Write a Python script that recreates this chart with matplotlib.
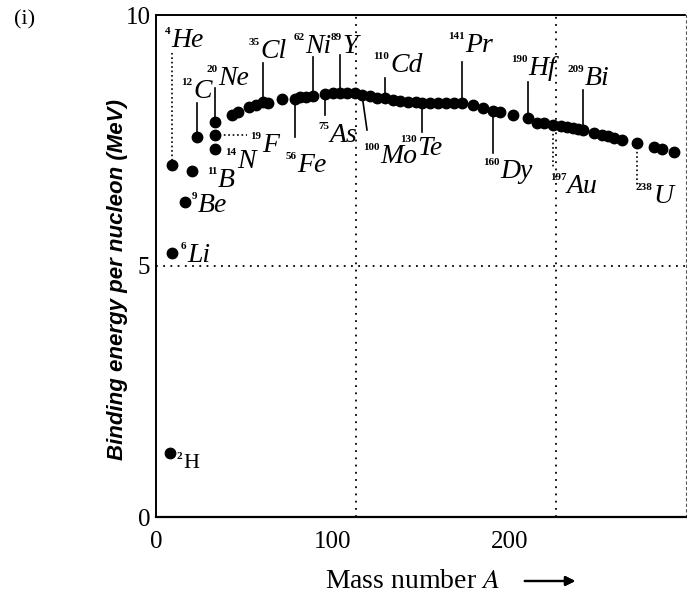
import matplotlib.pyplot as plt

plt.rcParams['mathtext.fontset'] = 'stix'

# labelled nuclides (positions as drawn in the figure)
lab_mass = ['2', '6', '4', '9', '11', '12', '14', '19', '20', '35', '56', '62',
            '75', '89', '100', '110', '130', '141', '160', '190', '197', '209', '238']
lab_sym = ['H', 'Li', 'He', 'Be', 'B', 'C', 'N', 'F', 'Ne', 'Cl', 'Fe', 'Ni',
           'As', 'Y', 'Mo', 'Cd', 'Te', 'Pr', 'Dy', 'Hf', 'Au', 'Bi', 'U']
lab_A = [7, 8, 8, 14.5, 18, 20.5, 29.5, 29.5, 29.5, 53.5, 69.5, 78.5,
         84.5, 92, 103, 114.5, 133, 153, 168.5, 186, 198.5, 213.5, 240.5]
lab_BE = [1.27, 5.26, 7.01, 6.27, 6.89, 7.57, 7.33, 7.61, 7.87, 8.27, 8.33, 8.39,
          8.43, 8.45, 8.41, 8.35, 8.25, 8.25, 8.09, 7.95, 7.81, 7.71, 7.45]

# unlabelled nuclides along the curve
oth_A = [38, 41, 46.5, 50, 56, 63, 72, 75, 88.5, 95.5, 99.5, 107, 110.5,
         118.5, 122, 126, 130, 137, 141, 145, 149, 158.5, 163.5, 172, 178.5,
         190.5, 194, 202.5, 205.5, 208.5, 211, 219, 223, 226, 229, 233,
         249, 253, 259]
oth_BE = [8.01, 8.07, 8.17, 8.21, 8.25, 8.33, 8.37, 8.37, 8.45, 8.45, 8.45, 8.39, 8.35,
          8.31, 8.29, 8.27, 8.26, 8.25, 8.25, 8.25, 8.25, 8.21, 8.15, 8.07, 8.01,
          7.85, 7.85, 7.79, 7.77, 7.75, 7.73, 7.65, 7.61, 7.59, 7.55, 7.51,
          7.37, 7.33, 7.27]

x_ticks = [0, 100, 200]
y_ticks = [0, 5, 10]

# label layout: symbol left/baseline and leader-line end
lab_text = {
    'H': (13.5, 0.98), 'Li': (15.5, 5.08), 'He': (7.5, 9.36), 'Be': (21, 6.08),
    'B': (31, 6.57), 'C': (18.5, 8.35), 'N': (40.5, 6.95), 'F': (53, 7.27),
    'Ne': (31, 8.61), 'Cl': (52, 9.14), 'Fe': (70.5, 6.87), 'Ni': (74.5, 9.24),
    'As': (87, 7.47), 'Y': (93, 9.24), 'Mo': (112, 7.05), 'Cd': (117, 8.86),
    'Te': (130.5, 7.21), 'Pr': (154.5, 9.26), 'Dy': (172, 6.75), 'Hf': (186, 8.80),
    'Au': (205.5, 6.45), 'Bi': (214.5, 8.61), 'U': (248.5, 6.25),
}
lab_line = {
    'He': (8, 9.26), 'C': (20.5, 8.25), 'Ne': (29.5, 8.55), 'Cl': (53.5, 9.04),
    'Ni': (78.5, 9.16), 'Y': (92, 9.20), 'Cd': (114.5, 8.75), 'Pr': (153, 9.06),
    'Hf': (186, 8.67), 'Bi': (213.5, 8.51), 'Fe': (69.5, 7.57), 'As': (84.5, 8.01),
    'Mo': (105.5, 7.71), 'Te': (133, 7.67), 'Dy': (168.5, 7.25), 'Au': (198.5, 6.97),
    'U': (240.5, 6.57), 'F': (45.5, 7.61),
}
dotted_leaders = ['He', 'U', 'Au', 'F']

fig = plt.figure(figsize=(6.87, 6.01), dpi=100)
ax = fig.add_axes([156 / 687, 1 - 517 / 601, 530 / 687, 502 / 601])

# dotted grid lines at 100, 200 and 5
for xv in x_ticks[1:]:
    ax.axvline(xv, color='black', lw=1.3, ls=(0, (1, 3)), zorder=1)
ax.axhline(y_ticks[1], color='black', lw=1.3, ls=(0, (1, 3)), zorder=1)

# leader lines
for sym, (x1, y1) in lab_line.items():
    i = lab_sym.index(sym)
    ls = ':' if sym in dotted_leaders else '-'
    ax.plot([lab_A[i], x1], [lab_BE[i], y1], color='black', lw=1.2, ls=ls, zorder=2)

ax.plot(oth_A, oth_BE, 'o', color='black', ms=7.5, zorder=3)
ax.plot(lab_A, lab_BE, 'o', color='black', ms=7.5, zorder=3)

for m, sym in zip(lab_mass, lab_sym):
    tx, ty = lab_text[sym]
    style = 'normal' if sym == 'H' else 'italic'
    size = 16 if sym == 'H' else 20
    ax.text(tx, ty, sym, fontsize=size, family='Liberation Serif', style=style,
            ha='left', va='baseline', zorder=4)
    ax.annotate(m, xy=(tx, ty), xytext=(-0.5, 14.5 if sym != 'H' else 11.5),
                textcoords='offset points', fontsize=8, family='Liberation Serif',
                weight='bold', ha='right', va='top', zorder=4)

# the printed x scale sits a bit left of the grid lines in the original
ax.set_xticks([v * 0.885 for v in x_ticks], [str(v) for v in x_ticks])
ax.set_yticks(y_ticks, [str(v) for v in y_ticks])
ax.set_xlim(0, 265)
ax.set_ylim(0, 10)
ax.tick_params(length=0, labelsize=18, pad=4)
ax.tick_params(axis='x', pad=10)
for lbl in ax.get_xticklabels() + ax.get_yticklabels():
    lbl.set_family('Liberation Serif')

for side in ['left', 'top']:
    ax.spines[side].set_linestyle((0, (6, 1)))
    ax.spines[side].set_linewidth(1.4)
ax.spines['bottom'].set_linewidth(1.6)
ax.spines['right'].set_linestyle((0, (2, 3)))
ax.spines['right'].set_linewidth(0.8)
ax.spines['right'].set_color('#555555')

fig.text(118 / 687, 1 - 280 / 601, 'Binding energy per nucleon (MeV)', rotation=90,
         ha='center', va='center', fontsize=16, family='Liberation Sans',
         weight='bold', style='italic')
fig.text(412 / 687, 1 - 581 / 601, r'Mass number $A$',
         ha='center', va='center', fontsize=20, family='Liberation Serif')
fig.add_artist(plt.annotate('', xy=(578 / 687, 1 - 581 / 601), xycoords='figure fraction',
                            xytext=(522 / 687, 1 - 581 / 601), textcoords='figure fraction',
                            arrowprops=dict(arrowstyle='-|>', color='black', lw=1.6,
                                            mutation_scale=14)))
fig.text(14 / 687, 1 - 20 / 601, '(i)', ha='left', va='center', fontsize=16,
         family='Liberation Serif')

fig.savefig('out.png', dpi=100)
